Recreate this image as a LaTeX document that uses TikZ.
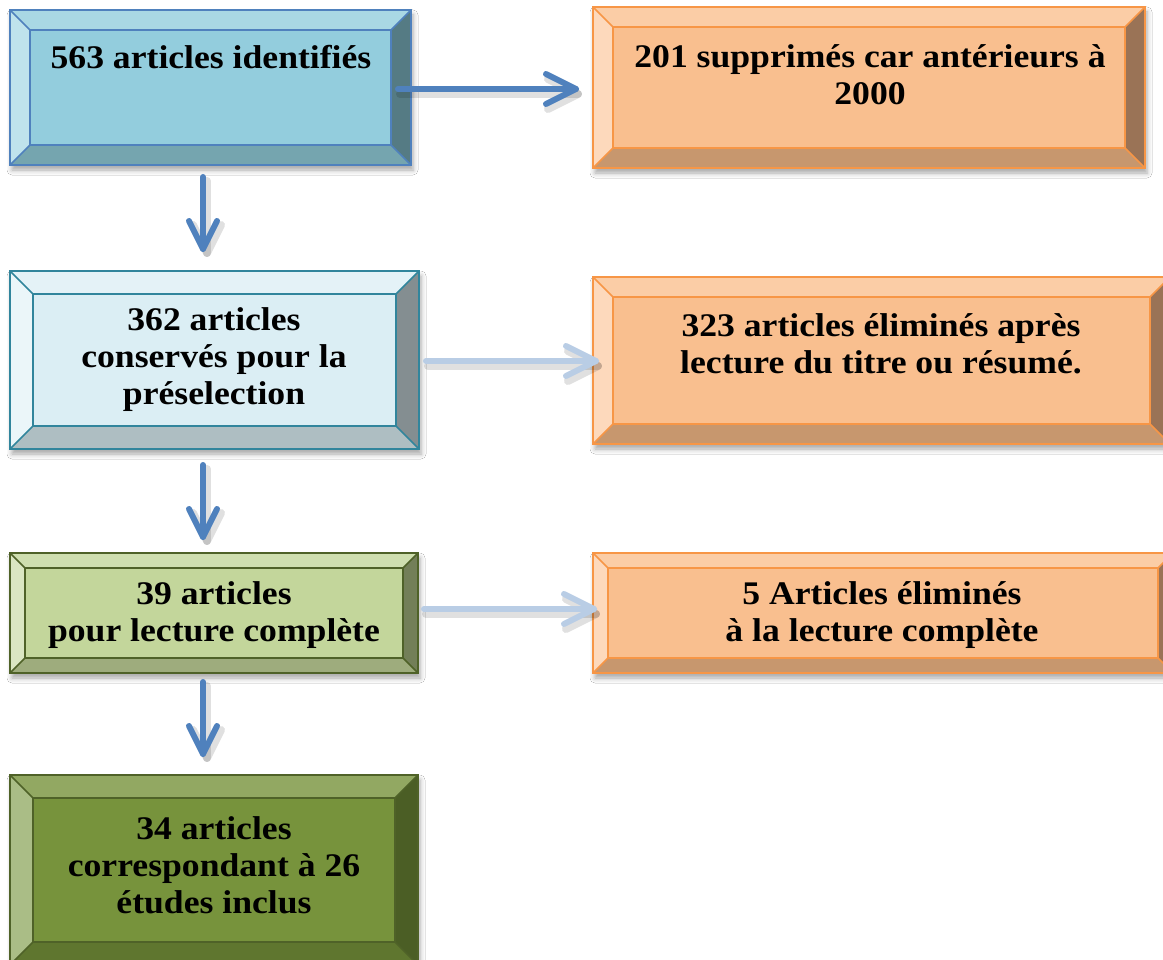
\documentclass[tikz,border=0pt]{standalone}
\usepackage{fontspec}
\setmainfont{Liberation Serif}[FakeStretch=1.08]
\usetikzlibrary{calc,shadows.blur}
% palettes
\definecolor{blin}{HTML}{93CDDD}\definecolor{bltop}{HTML}{A9D8E4}\definecolor{blleft}{HTML}{BFE3EC}
\definecolor{blright}{HTML}{557B84}\definecolor{blbot}{HTML}{75A5AF}\definecolor{blbd}{HTML}{4F81BD}
\definecolor{lbin}{HTML}{DBEEF4}\definecolor{lbtop}{HTML}{E4F2F7}\definecolor{lbleft}{HTML}{EBF6F9}
\definecolor{lbright}{HTML}{848E91}\definecolor{lbbot}{HTML}{AEBEC2}\definecolor{lbbd}{HTML}{31859C}
\definecolor{orin}{HTML}{F9BF8F}\definecolor{ortop}{HTML}{FBCDA6}\definecolor{orleft}{HTML}{FDD9BC}
\definecolor{orright}{HTML}{9A7356}\definecolor{orbot}{HTML}{C7976E}\definecolor{orbd}{HTML}{F79646}
\definecolor{lgin}{HTML}{C3D69B}\definecolor{lgtop}{HTML}{CFDFAF}\definecolor{lgleft}{HTML}{DAE6C2}
\definecolor{lgright}{HTML}{737F58}\definecolor{lgbot}{HTML}{9EAC7D}\definecolor{lgbd}{HTML}{4F6228}
\definecolor{dgin}{HTML}{77933C}\definecolor{dgtop}{HTML}{92A862}\definecolor{dgleft}{HTML}{AABD86}
\definecolor{dgright}{HTML}{4B5E25}\definecolor{dgbot}{HTML}{5F762F}\definecolor{dgbd}{HTML}{4F6228}
\definecolor{arrdk}{HTML}{4F81BD}\definecolor{arrlt}{HTML}{B9CDE5}
\tikzset{
  boxbase/.style={rectangle, draw=none, inner sep=0pt, outer sep=0pt,
    blur shadow={shadow xshift=2pt, shadow yshift=-5pt, shadow blur radius=5pt, shadow opacity=35}},
  bevline/.style={line width=1.6pt, line join=miter},
  txt/.style={align=center, inner sep=0pt, font=\fontsize{33}{37}\selectfont\bfseries},
  arrline/.style={line width=6pt, line cap=round, line join=round},
  arrshadow/.style={line width=8pt, line cap=round, line join=round, black, opacity=0.12},
}
% #1 name, #2 x1, #3 y1, #4 x2, #5 y2, #6 bevel, #7 palette
\newcommand\bevbox[7]{%
  \node[boxbase, fill=#7in, minimum width={(#4-#2)*1pt}, minimum height={(#5-#3)*1pt}]
    (#1) at ({(#2+#4)/2},{(#3+#5)/2}) {};
  \coordinate (#1-a) at ([shift={(#6,#6)}]#1.north west);
  \coordinate (#1-b) at ([shift={(-#6,#6)}]#1.north east);
  \coordinate (#1-c) at ([shift={(-#6,-#6)}]#1.south east);
  \coordinate (#1-d) at ([shift={(#6,-#6)}]#1.south west);
  \fill[#7top] (#1.north west) -- (#1.north east) -- (#1-b) -- (#1-a) -- cycle;
  \fill[#7right] (#1.north east) -- (#1.south east) -- (#1-c) -- (#1-b) -- cycle;
  \fill[#7bot] (#1.south east) -- (#1.south west) -- (#1-d) -- (#1-c) -- cycle;
  \fill[#7left] (#1.south west) -- (#1.north west) -- (#1-a) -- (#1-d) -- cycle;
  \draw[bevline, #7bd] (#1.north west) rectangle (#1.south east);
  \draw[bevline, #7bd] (#1-a) rectangle (#1-c);
  \draw[bevline, #7bd] (#1.north west) -- (#1-a) (#1.north east) -- (#1-b)
    (#1.south east) -- (#1-c) (#1.south west) -- (#1-d);
}
\newcommand\hconn[3]{%
  \draw[arrshadow] ([shift={(2,5)}]#1) -- ([shift={(2,5)}]#2);
  \draw[arrshadow] ([shift={(-28,-10)}]#2) -- ([shift={(2,5)}]#2) -- ([shift={(-28,20)}]#2);
  \draw[arrline, #3] (#1) -- (#2);
  \draw[arrline, #3] ([shift={(-30,-15)}]#2) -- (#2) -- ([shift={(-30,15)}]#2);
}
\newcommand\vconn[3]{%
  \draw[arrshadow] ([shift={(4,4)}]#1) -- ([shift={(4,4)}]#2);
  \draw[arrshadow] ([shift={(-10,-24)}]#2) -- ([shift={(4,4)}]#2) -- ([shift={(18,-24)}]#2);
  \draw[arrline, #3] (#1) -- (#2);
  \draw[arrline, #3] ([shift={(-14,-28)}]#2) -- (#2) -- ([shift={(14,-28)}]#2);
}
\begin{document}
\begin{tikzpicture}[x=1pt, y=-1pt]
\useasboundingbox (0,0) rectangle (1163,960);
\fill[white] (0,0) rectangle (1163,960);
\clip (0,0) rectangle (1163,960);

\bevbox{b1}{10}{10}{411}{165}{20}{bl}
\bevbox{b2}{593}{7}{1145}{168}{20}{or}
\bevbox{b3}{10}{271}{419}{449}{23}{lb}
\bevbox{b4}{593}{277}{1170}{444}{20}{or}
\bevbox{b5}{10}{553}{418}{673}{15}{lg}
\bevbox{b6}{593}{553}{1173}{673}{15}{or}
\bevbox{b7}{10}{775}{418}{965}{23}{dg}

\node[txt] (t1) at (211,57) {563 articles identifiés};
\node[txt] (t2) at (870,75) {201 supprimés car antérieurs à\\2000};
\node[txt] (t3) at (214,360) {362 articles\\conservés pour la\\préselection};
\node[txt] (t4) at (881,344) {323 articles éliminés après\\lecture du titre ou résumé.};
\node[txt] (t5) at (214,615) {39 articles\\pour lecture complète};
\node[txt] (t6) at (882,615) {5 Articles éliminés\\à la lecture complète};
\node[txt] (t7) at (214,865) {34 articles\\correspondant à 26\\études inclus};

\coordinate (a1s) at (398,89);  \coordinate (a1e) at (576,89);
\coordinate (a2s) at (426,361); \coordinate (a2e) at (596,361);
\coordinate (a3s) at (424,609); \coordinate (a3e) at (594,609);
\coordinate (v1s) at (203,177); \coordinate (v1e) at (203,249);
\coordinate (v2s) at (203,465); \coordinate (v2e) at (203,537);
\coordinate (v3s) at (203,682); \coordinate (v3e) at (203,754);

\hconn{a1s}{a1e}{arrdk}
\hconn{a2s}{a2e}{arrlt}
\hconn{a3s}{a3e}{arrlt}
\vconn{v1s}{v1e}{arrdk}
\vconn{v2s}{v2e}{arrdk}
\vconn{v3s}{v3e}{arrdk}
\end{tikzpicture}
\end{document}
